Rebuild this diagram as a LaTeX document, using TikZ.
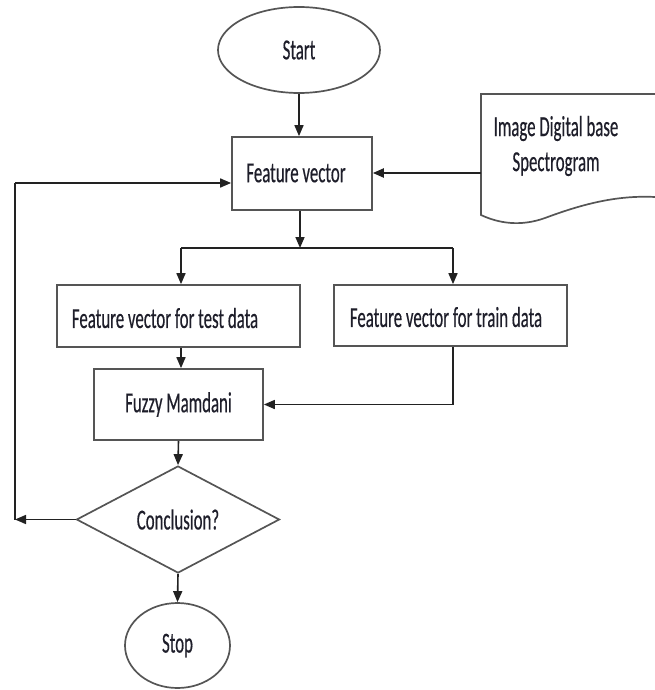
\documentclass[tikz,border=0pt]{standalone}
\usepackage{fontspec}
\setmainfont{Carlito}[FakeStretch=0.58,FakeBold=0.4]
\usetikzlibrary{shapes.geometric,arrows.meta}
\definecolor{shapeline}{HTML}{555555}
\definecolor{conline}{HTML}{222222}
\definecolor{txt}{HTML}{1E1E2A}
\tikzset{
  shp/.style={draw=shapeline, line width=1.7pt, inner sep=0pt, text=txt, font=\fontsize{29}{35}\selectfont},
  boxnode/.style={shp, rectangle},
  ellnode/.style={shp, ellipse},
  dianode/.style={shp, diamond},
  lbl/.style={text=txt, font=\fontsize{29}{35}\selectfont, inner sep=0pt, align=center},
  arr/.style={draw=conline, line width=1.6pt, -{Triangle[length=11pt,width=9pt]}},
  con/.style={draw=conline, line width=1.6pt},
}
\begin{document}
\begin{tikzpicture}[x=1pt,y=-1pt]
\useasboundingbox (0,0) rectangle (655,690);
% nodes
\node[ellnode, minimum width=162pt, minimum height=86pt] (start) at (299,50) {Start};
\node[boxnode, minimum width=140pt, minimum height=73pt] (fv) at (302,173.5) {};
\node[lbl] (fvt) at (296,173) {Feature vector};
\node[boxnode, minimum width=243pt, minimum height=62pt] (test) at (178.5,316) {};
\node[lbl] (testt) at (165,318) {Feature vector for test data};
\node[boxnode, minimum width=233pt, minimum height=61pt] (train) at (450.5,315.5) {};
\node[lbl] (traint) at (446,317) {Feature vector for train data};
\node[boxnode, minimum width=169pt, minimum height=71pt] (fuzzy) at (178.5,404.5) {Fuzzy Mamdani};
\node[dianode, minimum width=203pt, minimum height=107pt] (dia) at (178,519.5) {Conclusion?};
\node[ellnode, minimum width=105pt, minimum height=85pt] (stop) at (177.5,645.5) {Stop};
% document shape
\draw[draw=shapeline, line width=1.7pt] (655,94) -- (481,94) -- (481,215)
  .. controls (498,223) and (520,227) .. (545,218)
  .. controls (580,205) and (615,195) .. (655,197);
\node[lbl] (doctext) at (556,146) {Image Digital base\\Spectrogram};
% coordinates
\coordinate (docL) at (481,173);
\coordinate (split) at (300,248);
\coordinate (sl) at (181,248);
\coordinate (sr) at (453,248);
\coordinate (loopb) at (15,519.5);
\coordinate (loopt) at (15,183);
% connectors
\draw[arr] (start.south) -- (start.south |- fv.north);
\draw[arr, line width=2.2pt] (docL) -- (docL -| fv.east);
\draw[arr] (split |- fv.south) -- (split);
\draw[con] (sl) -- (sr);
\draw[arr] (sl) -- (sl |- test.north);
\draw[arr] (sr) -- (sr |- train.north);
\draw[arr] (sl |- test.south) -- (sl |- fuzzy.north);
\draw[arr] (sr |- train.south) |- (fuzzy.east);
\draw[arr] (fuzzy.south) -- (dia.north);
\draw[arr] (dia.west) -- (loopb);
\draw[con] (loopb) -- (loopt);
\draw[arr] (loopt) -- (loopt -| fv.west);
\draw[arr] (dia.south) -- (stop.north);
\end{tikzpicture}
\end{document}
